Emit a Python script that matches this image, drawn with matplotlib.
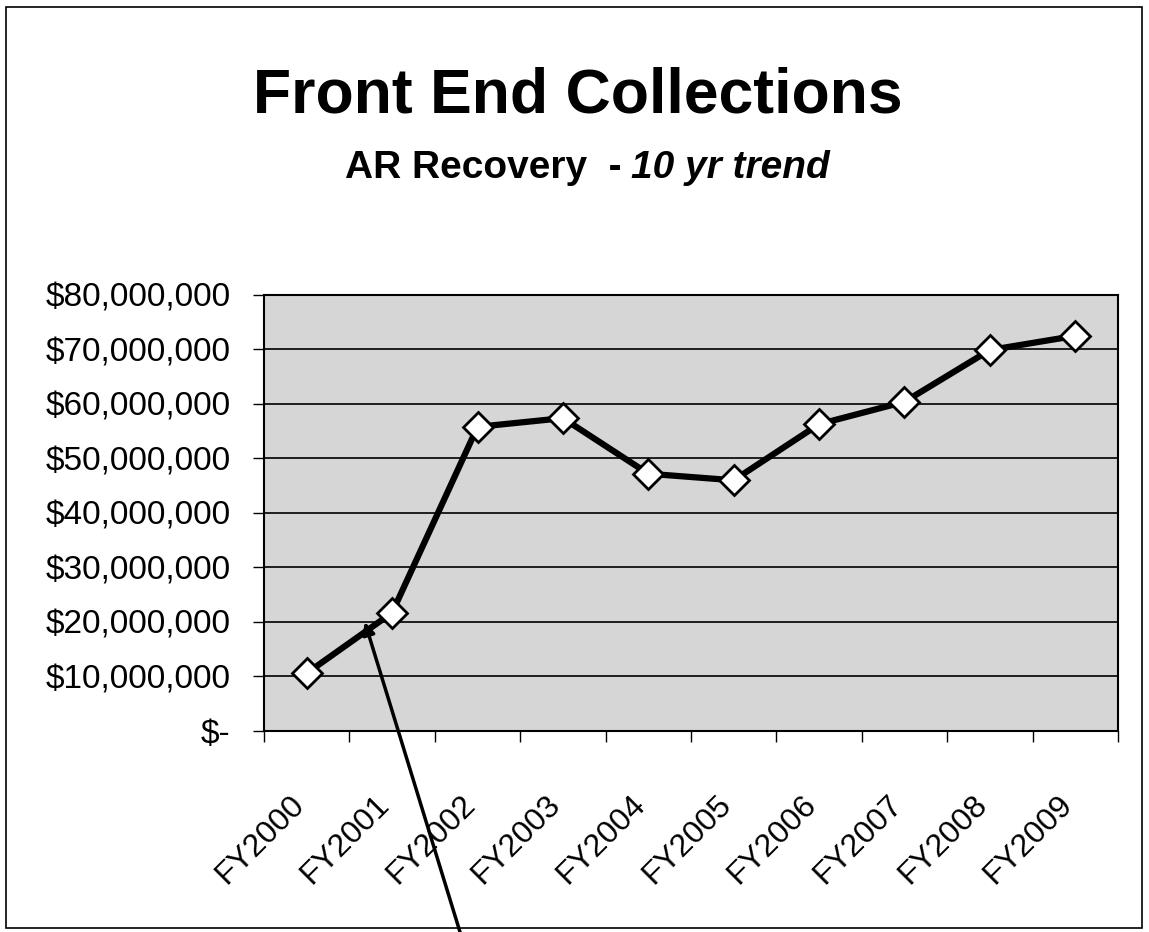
import matplotlib.pyplot as plt
from matplotlib.patches import Rectangle
from matplotlib.ticker import FuncFormatter
from matplotlib.transforms import ScaledTranslation

# data (dollars)
years = ["FY2000", "FY2001", "FY2002", "FY2003", "FY2004",
         "FY2005", "FY2006", "FY2007", "FY2008", "FY2009"]
recovery = [10600000, 21700000, 55800000, 57400000, 47200000,
            46000000, 56300000, 60400000, 69900000, 72500000]
y_ticks = [0, 10000000, 20000000, 30000000, 40000000,
           50000000, 60000000, 70000000, 80000000]

plt.rcParams['font.family'] = ['Liberation Sans', 'DejaVu Sans']

fig = plt.figure(figsize=(11.49, 9.32), dpi=100)
ax = fig.add_axes([0.2298, 0.2157, 0.7432, 0.4678])

# grey plot area with black gridlines
ax.set_facecolor('#d6d6d6')
ax.set_ylim(0, 80000000)
ax.set_yticks(y_ticks)
ax.yaxis.grid(True, color='black', linewidth=1.2)
ax.set_axisbelow(True)

def money(v, pos):
    if v == 0:
        return "$-"
    return "${:,.0f}".format(v)

ax.yaxis.set_major_formatter(FuncFormatter(money))
ax.tick_params(axis='y', length=8, width=1, pad=16, labelsize=24)

# categories: ticks at boundaries, labels at centres
x = list(range(len(years)))
ax.set_xlim(-0.5, len(years) - 0.5)
ax.set_xticks([i - 0.5 for i in range(len(years) + 1)])
ax.set_xticklabels([])
ax.set_xticks(x, minor=True)
ax.set_xticklabels(years, minor=True, rotation=45, ha='right', va='center',
                   rotation_mode='anchor', fontsize=23)
ax.tick_params(axis='x', which='major', length=8, width=1)
ax.tick_params(axis='x', which='minor', length=0, pad=50)
shift = ScaledTranslation(-0.07, 0, fig.dpi_scale_trans)
for lab in ax.get_xticklabels(minor=True):
    lab.set_transform(lab.get_transform() + shift)

for s in ax.spines.values():
    s.set_color('black')
    s.set_linewidth(1.5)

ax.plot(x, recovery, color='black', linewidth=4.5, marker='D',
        markersize=15, markerfacecolor='white', markeredgecolor='black',
        markeredgewidth=2, zorder=3)

# hand-drawn pointer arrow
ax.annotate("", xy=(0.68, 20000000), xycoords='data',
            xytext=(460 / 1149, 0.0), textcoords='figure fraction',
            arrowprops=dict(arrowstyle='-|>', color='black', lw=2.5,
                            mutation_scale=18, shrinkA=0, shrinkB=0),
            annotation_clip=False, zorder=5)

# titles
fig.text(0.503, 0.879, "Front End Collections", ha='center', va='baseline',
         fontsize=45, fontweight='bold')
fig.text(0.5413, 0.809, "AR Recovery  -", ha='right', va='baseline',
         fontsize=28, fontweight='bold')
fig.text(0.549, 0.809, "10 yr trend", ha='left', va='baseline',
         fontsize=28, fontweight='bold', fontstyle='italic')

# chart frame
fig.patches.append(Rectangle((0.005, 0.004), 0.989, 0.988, transform=fig.transFigure,
                             fill=False, edgecolor='black', linewidth=1.2))

fig.savefig("out.png", dpi=100)
